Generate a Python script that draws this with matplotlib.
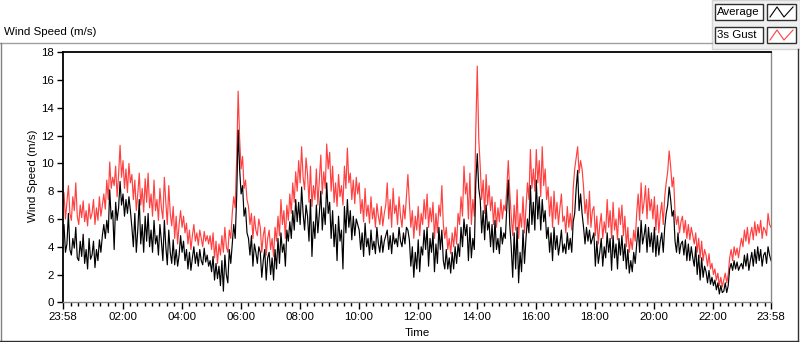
import numpy as np
import matplotlib
matplotlib.use('Agg')
import matplotlib.pyplot as plt
from matplotlib.patches import Rectangle
from matplotlib.lines import Line2D

# wind speed log, one sample every 3 min starting 23:58 (m/s), 20 values per hour
step_min = 3
gust = [
    6.8, 7.9, 6.0, 7.2, 8.4, 6.4, 5.9, 7.6, 6.6, 8.6, 6.2, 5.6, 7.0, 6.1, 7.3, 5.8, 6.6, 5.5, 7.1, 6.0,
    6.4, 7.4, 5.6, 6.8, 5.9, 7.6, 6.2, 7.0, 7.8, 6.7, 8.8, 7.4, 10.1, 8.2, 9.0, 8.4, 9.8, 7.6, 9.2, 11.3,
    9.0, 10.2, 8.2, 9.6, 7.9, 10.0, 8.6, 9.2, 7.4, 8.8, 6.6, 7.8, 9.3, 7.0, 8.2, 6.5, 8.9, 7.2, 9.3, 6.8,
    7.8, 6.2, 8.8, 6.6, 7.4, 5.9, 8.2, 6.8, 6.0, 9.0, 7.2, 5.6, 8.4, 6.4, 5.5, 6.9, 4.6, 6.2, 4.2, 5.6,
    6.6, 5.4, 6.2, 5.0, 5.7, 4.2, 5.2, 3.8, 4.8, 5.6, 4.4, 5.0, 4.1, 5.2, 4.6, 4.0, 5.1, 4.4, 4.8, 4.2,
    4.8, 3.8, 5.0, 3.2, 4.4, 2.8, 4.2, 3.4, 4.8, 3.6, 5.4, 4.0, 3.6, 5.2, 4.6, 6.4, 7.6, 6.8, 10.4, 15.2,
    11.8, 9.6, 10.5, 8.2, 8.8, 7.4, 6.9, 5.6, 6.4, 4.6, 6.2, 5.2, 4.8, 6.0, 5.4, 3.6, 4.8, 5.4, 3.4, 4.6,
    5.2, 3.8, 4.6, 3.3, 5.4, 4.4, 6.2, 4.8, 7.4, 5.6, 6.6, 4.6, 7.0, 5.9, 7.8, 6.4, 8.6, 7.2, 9.4, 8.0,
    10.2, 8.6, 11.2, 9.0, 8.1, 10.4, 9.2, 7.2, 9.8, 6.9, 8.4, 7.4, 9.6, 7.0, 8.8, 10.6, 7.8, 9.4, 8.2, 11.4,
    9.6, 10.8, 8.0, 9.8, 7.2, 8.6, 6.9, 9.2, 7.6, 8.4, 7.0, 9.8, 8.2, 11.1, 8.6, 9.3, 7.4, 8.8, 7.1, 9.0,
    7.8, 8.6, 6.4, 7.4, 5.8, 8.2, 6.2, 7.0, 5.7, 7.6, 6.0, 6.8, 5.4, 7.1, 6.2, 5.6, 6.9, 5.5, 6.4, 7.0,
    8.6, 6.0, 7.4, 5.4, 8.2, 6.4, 7.0, 5.6, 7.6, 6.2, 5.4, 7.0, 6.0, 7.6, 9.2, 7.2, 5.4, 6.6, 4.6, 6.2,
    5.2, 6.9, 4.8, 6.4, 5.6, 7.4, 6.0, 7.8, 5.4, 6.8, 5.8, 7.2, 4.6, 6.4, 5.0, 7.0, 6.2, 8.4, 5.6, 4.6,
    5.4, 3.8, 4.6, 3.5, 5.0, 4.0, 5.4, 4.2, 6.4, 5.6, 7.6, 6.2, 9.8, 7.8, 8.6, 6.0, 9.3, 5.6, 7.4, 6.2,
    12.4, 17.0, 11.8, 9.8, 7.4, 8.8, 6.4, 9.2, 7.0, 8.4, 6.6, 7.6, 5.6, 7.2, 5.4, 6.8, 5.8, 7.4, 6.0, 7.0,
    6.6, 8.2, 10.2, 8.0, 6.2, 4.8, 7.0, 5.2, 8.1, 4.6, 6.4, 5.4, 7.6, 5.0, 6.8, 8.6, 7.4, 11.0, 8.2, 9.6,
    8.0, 11.0, 8.6, 10.2, 7.6, 11.2, 8.4, 9.6, 7.4, 8.3, 6.2, 7.6, 5.4, 8.0, 6.0, 7.2, 5.6, 6.8, 7.8, 5.8,
    6.2, 5.0, 6.9, 5.4, 6.4, 5.2, 8.2, 9.6, 10.4, 11.2, 9.3, 10.2, 9.6, 8.3, 6.4, 7.4, 5.6, 8.0, 5.4, 6.6,
    6.9, 4.8, 6.2, 4.2, 5.6, 6.4, 4.6, 5.8, 5.0, 7.4, 5.4, 6.6, 4.6, 7.2, 5.2, 6.0, 4.5, 6.8, 5.6, 7.0,
    4.8, 6.2, 4.0, 5.4, 3.6, 4.6, 3.8, 5.2, 4.4, 6.4, 7.8, 5.9, 8.6, 6.4, 7.2, 8.4, 6.0, 8.2, 6.6, 7.4,
    6.0, 7.6, 5.2, 7.0, 5.0, 6.4, 7.2, 5.6, 7.6, 8.6, 9.4, 10.9, 9.8, 8.3, 9.0, 6.4, 5.6, 6.2, 5.0, 5.8,
    6.2, 5.0, 5.9, 4.6, 5.6, 4.5, 5.4, 4.8, 4.2, 5.0, 3.6, 4.6, 3.2, 4.4, 3.0, 3.8, 3.4, 2.6, 3.5, 2.4,
    2.8, 2.0, 2.4, 1.6, 2.1, 1.2, 1.8, 1.1, 1.6, 2.1, 1.4, 2.0, 3.2, 3.8, 3.0, 4.0, 3.4, 3.9, 3.2, 4.0,
    4.6, 4.0, 5.2, 4.4, 5.4, 4.2, 4.9, 5.4, 4.5, 5.8, 4.8, 5.6, 5.0, 5.9, 4.6, 5.4, 5.2, 4.8, 6.4, 5.6,
    5.4]
average = [
    4.8, 5.6, 3.6, 4.2, 6.4, 3.8, 3.4, 4.6, 3.9, 5.4, 3.2, 3.0, 4.4, 3.3, 4.9, 2.8, 3.8, 2.4, 4.6, 3.1,
    3.4, 4.4, 2.5, 3.8, 3.0, 4.5, 3.6, 4.8, 5.6, 4.6, 5.9, 5.0, 8.1, 6.0, 6.6, 3.8, 7.2, 5.9, 6.8, 8.7,
    7.0, 7.8, 6.2, 7.4, 6.4, 7.6, 6.6, 5.4, 4.0, 6.4, 3.6, 5.2, 7.4, 4.2, 5.6, 3.6, 6.2, 4.4, 6.4, 4.0,
    5.2, 3.6, 5.9, 4.2, 4.8, 3.4, 5.6, 4.4, 3.0, 5.9, 4.0, 2.7, 5.2, 3.6, 2.8, 4.5, 2.7, 3.8, 2.6, 3.4,
    4.8, 3.6, 4.4, 3.0, 3.8, 2.4, 3.6, 2.3, 3.2, 4.0, 2.8, 3.6, 2.6, 3.8, 3.0, 2.7, 3.9, 2.9, 3.4, 2.6,
    3.0, 2.2, 3.3, 1.6, 2.8, 1.7, 2.6, 1.2, 3.0, 0.8, 3.4, 2.0, 1.4, 3.8, 2.8, 4.2, 5.6, 4.6, 7.6, 12.4,
    9.6, 7.8, 8.4, 6.2, 6.8, 5.0, 4.6, 3.4, 4.8, 2.6, 4.2, 3.6, 2.8, 4.0, 3.6, 1.8, 3.0, 3.8, 1.6, 3.2,
    3.6, 2.0, 3.2, 1.6, 3.8, 2.4, 4.6, 2.8, 5.0, 3.6, 4.2, 2.6, 5.2, 4.4, 5.8, 4.6, 6.6, 5.2, 7.4, 5.8,
    7.2, 5.6, 8.3, 6.4, 5.2, 7.0, 6.2, 4.4, 7.4, 3.3, 5.8, 4.6, 7.0, 5.0, 6.4, 8.0, 5.2, 6.8, 5.6, 8.6,
    6.4, 7.2, 4.6, 6.6, 4.0, 5.6, 3.0, 6.2, 4.4, 5.2, 2.4, 6.9, 5.0, 7.4, 5.4, 6.6, 4.5, 6.2, 4.8, 6.0,
    5.6, 5.2, 3.8, 5.0, 3.3, 5.7, 4.0, 4.6, 3.4, 5.2, 3.8, 4.4, 3.5, 5.4, 4.2, 3.6, 4.8, 3.6, 4.4, 4.8,
    5.2, 3.8, 4.8, 3.5, 5.0, 4.2, 4.6, 4.0, 5.4, 4.4, 4.0, 5.0, 4.2, 5.4, 5.2, 4.5, 2.6, 4.0, 1.8, 3.6,
    2.4, 4.5, 2.2, 4.0, 3.4, 5.2, 3.8, 5.4, 2.6, 4.6, 3.6, 5.0, 2.2, 4.2, 2.8, 5.4, 3.8, 5.2, 3.0, 2.4,
    3.8, 2.4, 3.2, 2.1, 3.6, 2.4, 4.0, 2.8, 4.2, 3.3, 5.4, 4.0, 6.0, 4.8, 5.6, 3.0, 5.4, 3.2, 4.6, 3.8,
    8.6, 10.7, 8.2, 7.4, 5.0, 6.6, 4.5, 7.0, 5.2, 5.8, 4.0, 5.6, 3.6, 5.9, 3.8, 4.6, 3.5, 5.4, 4.2, 5.0,
    4.6, 6.8, 8.8, 5.6, 4.0, 1.8, 5.0, 2.4, 5.4, 1.4, 3.6, 2.2, 5.2, 2.8, 4.6, 6.0, 5.0, 8.4, 5.6, 7.2,
    5.2, 8.8, 6.0, 7.6, 5.2, 7.4, 5.8, 6.6, 4.6, 5.4, 3.6, 5.0, 3.0, 5.4, 3.8, 4.8, 3.4, 4.2, 5.2, 3.6,
    4.2, 3.5, 5.0, 3.8, 4.6, 3.6, 5.8, 6.4, 8.2, 9.5, 6.6, 7.8, 6.4, 5.4, 4.2, 5.4, 4.4, 5.2, 4.2, 4.6,
    5.0, 2.6, 4.4, 2.8, 3.6, 4.6, 2.6, 4.0, 3.2, 5.0, 3.6, 4.6, 2.3, 4.8, 3.2, 4.2, 2.4, 4.6, 3.4, 4.8,
    3.0, 4.2, 2.4, 3.8, 2.1, 3.0, 2.2, 3.6, 2.8, 4.2, 5.4, 3.6, 5.9, 4.2, 4.8, 5.6, 3.6, 5.4, 4.0, 5.0,
    3.6, 5.4, 3.3, 4.8, 3.4, 4.4, 5.0, 3.6, 5.4, 6.4, 7.0, 8.3, 7.4, 6.2, 6.6, 4.4, 3.6, 5.0, 3.5, 4.2,
    4.4, 3.4, 4.5, 3.0, 4.2, 3.0, 4.0, 3.2, 2.6, 4.0, 2.0, 3.4, 1.6, 3.2, 1.8, 2.6, 2.2, 1.4, 2.3, 1.3,
    1.8, 1.2, 1.6, 0.9, 1.4, 0.6, 1.2, 0.7, 0.8, 1.4, 0.7, 1.2, 2.4, 2.8, 2.3, 3.0, 2.4, 2.9, 2.3, 2.6,
    2.8, 2.4, 3.4, 2.6, 3.5, 2.3, 3.0, 3.6, 2.6, 3.8, 2.8, 4.0, 3.0, 3.8, 2.6, 3.4, 3.6, 2.8, 4.0, 3.4,
    3.0]
tick_labels = ['23:58', '02:00', '04:00', '06:00', '08:00', '10:00', '12:00',
               '14:00', '16:00', '18:00', '20:00', '22:00', '23:58']
start_clock = 23 * 60 + 58
span_min = 24 * 60

W, H = 800, 342
plt.rcParams['font.family'] = ['Liberation Sans', 'DejaVu Sans']
plt.rcParams['font.size'] = 8.25

fig = plt.figure(figsize=(W / 100, H / 100), dpi=100)
fig.patch.set_facecolor('white')

def fx(px):
    return px / W

def fy(py):
    return 1 - py / H

# plot area in pixels
L, R, T, B = 62.5, 771.0, 52.3, 302.3
ax = fig.add_axes([fx(L), fy(B), fx(R - L), (B - T) / H])

ax.plot(np.arange(len(gust)) * step_min, gust, color='#ff4040', lw=0.85)
ax.plot(np.arange(len(average)) * step_min, average, color='black', lw=0.85)

ax.set_xlim(0, span_min)
ax.set_ylim(0, 18)
ax.set_yticks(range(0, 19, 2))

# major ticks on the clock's even hours, minor every 15 min
major = [0] + [(h * 60 - start_clock) % span_min for h in range(2, 24, 2)] + [span_min]
minor = [m for m in range(2, span_min, 15) if m not in major and m > 5]
ax.set_xticks(major)
ax.set_xticklabels(tick_labels)
ax.set_xticks(minor, minor=True)

ax.tick_params(axis='both', which='major', length=4, width=1, pad=2, labelsize=8.25)
ax.tick_params(axis='x', which='major', length=5)
ax.tick_params(axis='x', which='minor', length=3, width=1)

for s in ['left', 'top']:
    ax.spines[s].set_color('black')
    ax.spines[s].set_linewidth(1.3)
for s in ['right', 'bottom']:
    ax.spines[s].set_color('#8a8a8a')
    ax.spines[s].set_linewidth(1.0)

# axis titles
fig.text(fx(33), fy(176), 'Wind Speed (m/s)', rotation=90, ha='center', va='center')
fig.text(fx(417), fy(333), 'Time', ha='center', va='center')
fig.text(fx(4), fy(32), 'Wind Speed (m/s)', ha='left', va='center')

# outer frame
frame = '#a0a0a0'
fig.add_artist(Line2D([fx(0), fx(712)], [fy(42.5), fy(42.5)], color=frame, lw=1))
fig.add_artist(Line2D([fx(0.5), fx(0.5)], [fy(42.5), fy(341)], color='#808080', lw=1))
fig.add_artist(Line2D([fx(0), fx(798)], [fy(341), fy(341)], color='#303030', lw=1))
fig.add_artist(Line2D([fx(797.5), fx(797.5)], [fy(49), fy(341)], color='#303030', lw=1))

# legend panel
fig.add_artist(Rectangle((fx(712), fy(49)), fx(88), 49 / H, facecolor='#f0f0f0',
                         edgecolor='#d4d4d4', lw=1))
for row, (name, col) in enumerate([('Average', 'black'), ('3s Gust', '#ff4040')]):
    y0, y1 = 4 + row * 23, 20 + row * 23
    fig.add_artist(Rectangle((fx(715), fy(y1)), fx(48), (y1 - y0) / H,
                             facecolor='white', edgecolor='#303030', lw=1))
    fig.text(fx(717), fy((y0 + y1) / 2), name, ha='left', va='center')
    fig.add_artist(Rectangle((fx(767), fy(y1)), fx(29), (y1 - y0) / H,
                             facecolor='white', edgecolor='#303030', lw=1))
    xs = [770, 777, 784, 793]
    ys = [y1 - 3, y0 + 3, y1 - 3, y0 + 3]
    fig.add_artist(Line2D([fx(v) for v in xs], [fy(v) for v in ys], color=col, lw=0.8))

fig.savefig('out.png', dpi=100)
